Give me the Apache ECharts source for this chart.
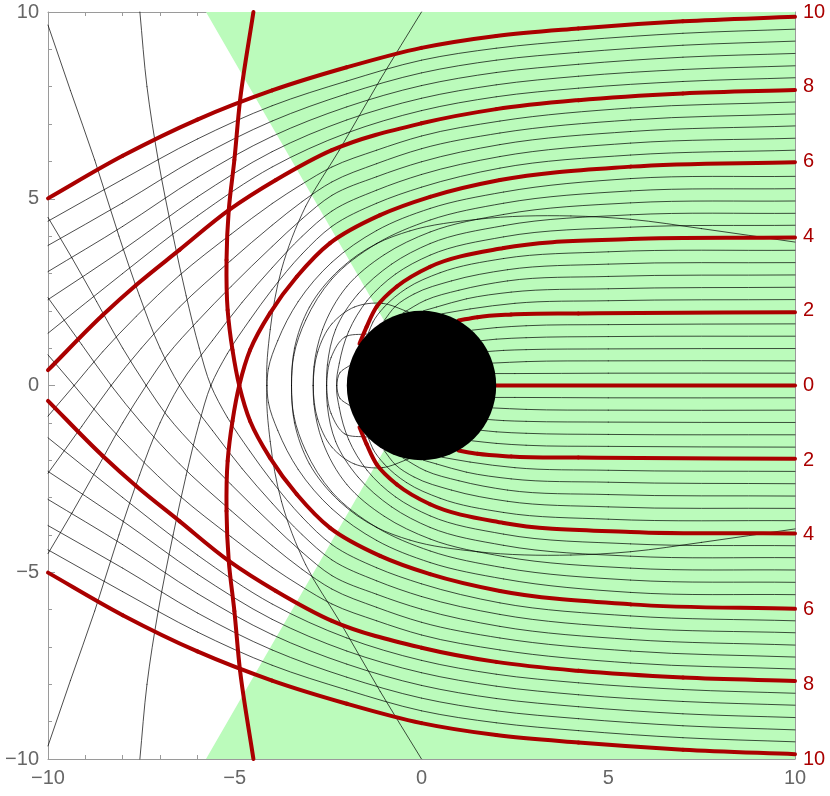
<!DOCTYPE html>
<html><head><meta charset="utf-8">
<script src="https://cdn.jsdelivr.net/npm/echarts/dist/echarts.min.js"></script>
<style>html,body{margin:0;padding:0;background:#fff}#c{width:830px;height:796px}</style>
</head><body><div id="c"></div>
<script>
// axis ticks
const xTicks = [-10, -5, 0, 5, 10];
const yTicksLeft = [-10, -5, 0, 5, 10];
const yTicksRight = [10, 8, 6, 4, 2, 0, 2, 4, 6, 8, 10];

// green wedge boundary (data units) and horizon
const wedgeX = [0, -5.77, 10, 10, -5.77];
const wedgeY = [0, 10, 10, -10, -10];
const holeCenter = [0, 0];
const horizonRadius = 2;

// thick red rays (upper, b>0)
const red_p0 = [[10,0],[2,0]];
const red_p2 = [[10,1.96],[4.2,1.93],[2.4,1.9],[1.5,1.83],[0.99,1.74]];
const red_p4 = [[10,3.96],[5.6,3.92],[2.2,3.68],[0.23,3.18],[-0.66,2.65],[-1.2,2.11],[-1.47,1.57],[-1.66,1.12]];
const red_p6 = [[10,5.98],[5.6,5.86],[2.1,5.5],[0.23,5.05],[-1.11,4.56],[-2.45,3.81],[-3.34,2.91],[-4.06,1.93],[-4.59,0.95],[-4.88,0],[-5.06,-0.95],[-5.19,-2.02],[-5.22,-3.36],[-5.16,-4.7],[-5.01,-6.04],[-4.86,-7.62],[-4.5,-10]];
const red_p8 = [[10,7.91],[7,7.82],[4.2,7.64],[2,7.4],[0,7.02],[-2.4,6.3],[-3.9,5.5],[-5.15,4.7],[-6.48,3.63],[-7.64,2.69],[-8.54,1.88],[-10,0.41]];
const red_p10 = [[10,9.87],[7,9.75],[4.2,9.56],[2,9.36],[0,9.04],[-2,8.52],[-4,7.9],[-6,7.12],[-8,6.15],[-10,5.01]];
// thick red rays (lower, b<0)
const red_m2 = [[10,-1.96],[4.2,-1.93],[2.4,-1.9],[1.5,-1.83],[0.99,-1.74]];
const red_m4 = [[10,-3.96],[5.6,-3.92],[2.2,-3.68],[0.23,-3.18],[-0.66,-2.65],[-1.2,-2.11],[-1.47,-1.57],[-1.66,-1.12]];
const red_m6 = [[10,-5.98],[5.6,-5.86],[2.1,-5.5],[0.23,-5.05],[-1.11,-4.56],[-2.45,-3.81],[-3.34,-2.91],[-4.06,-1.93],[-4.59,-0.95],[-4.88,0],[-5.06,0.95],[-5.19,2.02],[-5.22,3.36],[-5.16,4.7],[-5.01,6.04],[-4.86,7.62],[-4.5,10]];
const red_m8 = [[10,-7.91],[7,-7.82],[4.2,-7.64],[2,-7.4],[0,-7.02],[-2.4,-6.3],[-3.9,-5.5],[-5.15,-4.7],[-6.48,-3.63],[-7.64,-2.69],[-8.54,-1.88],[-10,-0.41]];
const red_m10 = [[10,-9.87],[7,-9.75],[4.2,-9.56],[2,-9.36],[0,-9.04],[-2,-8.52],[-4,-7.9],[-6,-7.12],[-8,-6.15],[-10,-5.01]];

// thin rays (upper)
const thin_p1 = [[10,0.33],[5,0.33],[2.5,0.32],[1.97,0.32]];
const thin_p2 = [[10,0.66],[5,0.66],[2.8,0.64],[1.91,0.6]];
const thin_p3 = [[10,0.99],[5,0.98],[2.8,0.96],[2.2,0.94],[1.78,0.91]];
const thin_p4 = [[10,1.32],[5,1.31],[2.8,1.28],[2.0,1.24],[1.6,1.2]];
const thin_p5 = [[10,1.65],[5,1.63],[2.8,1.6],[2.0,1.55],[1.35,1.48]];
const thin_p7 = [[10,2.3],[5,2.27],[2.5,2.2],[1.3,2.05],[0.55,1.92]];
const thin_p8 = [[10,2.63],[5,2.59],[2.4,2.5],[1.2,2.32],[0.4,2.1],[0.05,2.0]];
const thin_p9 = [[10,2.96],[5,2.92],[2.3,2.8],[1.0,2.55],[0.1,2.28],[-0.5,1.94]];
const thin_p10 = [[10,3.29],[5,3.25],[2.3,3.1],[0.8,2.8],[-0.2,2.45],[-0.7,2.12],[-1.0,1.74]];
const thin_p11 = [[10,3.62],[5,3.58],[2.2,3.4],[0.5,3.02],[-0.4,2.6],[-1.0,2.1],[-1.3,1.7],[-1.42,1.41]];
const thin_p13 = [[10,4.29],[5.6,4.24],[2.2,3.98],[0.23,3.49],[-0.7,2.98],[-1.45,2.28],[-1.95,1.45],[-2.2,0.6],[-2.27,0],[-2.18,-0.35],[-1.93,-0.53]];
const thin_p14 = [[10,4.61],[5.6,4.57],[2.2,4.28],[0.23,3.8],[-0.8,3.25],[-1.7,2.45],[-2.3,1.5],[-2.52,0.55],[-2.54,0],[-2.42,-0.75],[-2.05,-1.3],[-1.45,-1.38]];
const thin_p15 = [[10,4.94],[5.6,4.89],[2.2,4.58],[0.23,4.11],[-1.0,3.5],[-2.0,2.65],[-2.65,1.5],[-2.88,0.5],[-2.9,0],[-2.78,-0.9],[-2.4,-1.65],[-1.8,-2.1],[-1.05,-2.2],[-0.35,-1.97]];
const thin_p16 = [[10,5.27],[5.6,5.21],[2.2,4.88],[0.23,4.43],[-1.2,3.8],[-2.4,2.85],[-3.1,1.75],[-3.42,0.8],[-3.48,0],[-3.4,-1.0],[-3.0,-2.1],[-2.2,-3.1],[-1.2,-3.8],[-0.31,-4.14],[1.5,-4.45],[4.0,-4.54],[5.6,-4.45],[7.5,-4.2],[10,-3.84]];
const thin_p17 = [[10,5.6],[5.6,5.54],[2.2,5.18],[0.23,4.74],[-1.2,4.15],[-2.4,3.3],[-3.3,2.25],[-3.85,1.2],[-4.1,0.45],[-4.14,0],[-4.05,-1.5],[-3.75,-3.1],[-3.1,-4.8],[-2.2,-6.3],[-1.1,-8.2],[0,-10]];
const thin_p19 = [[10,6.3],[5.6,6.17],[2.1,5.82],[0,5.31],[-1.2,4.88],[-2.4,4.26],[-3.2,3.52],[-4,2.57],[-4.6,1.75],[-5.2,0.85],[-5.64,0],[-5.95,-1.0],[-6.3,-2.4],[-6.65,-4.0],[-7.05,-6.04],[-7.35,-8.0],[-7.54,-10]];
const thin_p20 = [[10,6.62],[5.6,6.49],[2.1,6.13],[0,5.65],[-1.2,5.23],[-2.4,4.67],[-3.2,3.99],[-4,3.15],[-4.8,2.23],[-5.6,1.2],[-6.48,0],[-7.0,-1.0],[-7.55,-2.4],[-8.1,-4.0],[-8.75,-6.04],[-9.4,-7.9],[-10,-9.65]];
const thin_p21 = [[10,6.95],[5.6,6.8],[2.1,6.45],[0,5.99],[-1.2,5.59],[-2.4,5.09],[-3.2,4.46],[-4,3.72],[-5.1,2.65],[-6.0,1.72],[-6.8,0.82],[-7.37,0],[-8.0,-1.0],[-8.7,-2.25],[-9.35,-3.4],[-10,-4.5]];
const thin_p22 = [[10,7.27],[5.6,7.11],[2.1,6.76],[0,6.34],[-1.2,5.94],[-2.4,5.45],[-3.2,4.92],[-4,4.29],[-5.1,3.35],[-6.48,2.1],[-7.5,1.0],[-8.31,0],[-9.1,-1.1],[-10,-2.35]];
const thin_p23 = [[10,7.59],[5.6,7.43],[2.1,7.08],[0,6.68],[-1.2,6.3],[-2.4,5.85],[-3.2,5.39],[-4,4.87],[-5.1,4.05],[-6.48,2.95],[-7.64,1.85],[-8.54,0.9],[-9.3,0],[-10,-0.82]];
const thin_p25 = [[10,8.24],[7,8.14],[4.2,7.96],[2,7.73],[0,7.36],[-2,6.76],[-4,5.85],[-6,4.54],[-8,3.0],[-10,1.4]];
const thin_p26 = [[10,8.56],[7,8.46],[4.2,8.28],[2,8.05],[0,7.69],[-2,7.11],[-4,6.26],[-6,5.05],[-8,3.63],[-10,2.3]];
const thin_p27 = [[10,8.89],[7,8.79],[4.2,8.6],[2,8.38],[0,8.03],[-2,7.46],[-4,6.67],[-6,5.57],[-8,4.26],[-10,3.05]];
const thin_p28 = [[10,9.22],[7,9.11],[4.2,8.92],[2,8.71],[0,8.37],[-2,7.81],[-4,7.08],[-6,6.09],[-8,4.89],[-10,3.75]];
const thin_p29 = [[10,9.54],[7,9.43],[4.2,9.24],[2,9.03],[0,8.71],[-2,8.15],[-4,7.49],[-6,6.6],[-8,5.52],[-10,4.4]];

// thin rays (lower)
const thin_m1 = [[10,-0.33],[5,-0.33],[2.5,-0.32],[1.97,-0.32]];
const thin_m2 = [[10,-0.66],[5,-0.66],[2.8,-0.64],[1.91,-0.6]];
const thin_m3 = [[10,-0.99],[5,-0.98],[2.8,-0.96],[2.2,-0.94],[1.78,-0.91]];
const thin_m4 = [[10,-1.32],[5,-1.31],[2.8,-1.28],[2.0,-1.24],[1.6,-1.2]];
const thin_m5 = [[10,-1.65],[5,-1.63],[2.8,-1.6],[2.0,-1.55],[1.35,-1.48]];
const thin_m7 = [[10,-2.3],[5,-2.27],[2.5,-2.2],[1.3,-2.05],[0.55,-1.92]];
const thin_m8 = [[10,-2.63],[5,-2.59],[2.4,-2.5],[1.2,-2.32],[0.4,-2.1],[0.05,-2.0]];
const thin_m9 = [[10,-2.96],[5,-2.92],[2.3,-2.8],[1.0,-2.55],[0.1,-2.28],[-0.5,-1.94]];
const thin_m10 = [[10,-3.29],[5,-3.25],[2.3,-3.1],[0.8,-2.8],[-0.2,-2.45],[-0.7,-2.12],[-1.0,-1.74]];
const thin_m11 = [[10,-3.62],[5,-3.58],[2.2,-3.4],[0.5,-3.02],[-0.4,-2.6],[-1.0,-2.1],[-1.3,-1.7],[-1.42,-1.41]];
const thin_m13 = [[10,-4.29],[5.6,-4.24],[2.2,-3.98],[0.23,-3.49],[-0.7,-2.98],[-1.45,-2.28],[-1.95,-1.45],[-2.2,-0.6],[-2.27,0],[-2.18,0.35],[-1.93,0.53]];
const thin_m14 = [[10,-4.61],[5.6,-4.57],[2.2,-4.28],[0.23,-3.8],[-0.8,-3.25],[-1.7,-2.45],[-2.3,-1.5],[-2.52,-0.55],[-2.54,0],[-2.42,0.75],[-2.05,1.3],[-1.45,1.38]];
const thin_m15 = [[10,-4.94],[5.6,-4.89],[2.2,-4.58],[0.23,-4.11],[-1.0,-3.5],[-2.0,-2.65],[-2.65,-1.5],[-2.88,-0.5],[-2.9,0],[-2.78,0.9],[-2.4,1.65],[-1.8,2.1],[-1.05,2.2],[-0.35,1.97]];
const thin_m16 = [[10,-5.27],[5.6,-5.21],[2.2,-4.88],[0.23,-4.43],[-1.2,-3.8],[-2.4,-2.85],[-3.1,-1.75],[-3.42,-0.8],[-3.48,0],[-3.4,1.0],[-3.0,2.1],[-2.2,3.1],[-1.2,3.8],[-0.31,4.14],[1.5,4.45],[4.0,4.54],[5.6,4.45],[7.5,4.2],[10,3.84]];
const thin_m17 = [[10,-5.6],[5.6,-5.54],[2.2,-5.18],[0.23,-4.74],[-1.2,-4.15],[-2.4,-3.3],[-3.3,-2.25],[-3.85,-1.2],[-4.1,-0.45],[-4.14,0],[-4.05,1.5],[-3.75,3.1],[-3.1,4.8],[-2.2,6.3],[-1.1,8.2],[0,10]];
const thin_m19 = [[10,-6.3],[5.6,-6.17],[2.1,-5.82],[0,-5.31],[-1.2,-4.88],[-2.4,-4.26],[-3.2,-3.52],[-4,-2.57],[-4.6,-1.75],[-5.2,-0.85],[-5.64,0],[-5.95,1.0],[-6.3,2.4],[-6.65,4.0],[-7.05,6.04],[-7.35,8.0],[-7.54,10]];
const thin_m20 = [[10,-6.62],[5.6,-6.49],[2.1,-6.13],[0,-5.65],[-1.2,-5.23],[-2.4,-4.67],[-3.2,-3.99],[-4,-3.15],[-4.8,-2.23],[-5.6,-1.2],[-6.48,0],[-7.0,1.0],[-7.55,2.4],[-8.1,4.0],[-8.75,6.04],[-9.4,7.9],[-10,9.65]];
const thin_m21 = [[10,-6.95],[5.6,-6.8],[2.1,-6.45],[0,-5.99],[-1.2,-5.59],[-2.4,-5.09],[-3.2,-4.46],[-4,-3.72],[-5.1,-2.65],[-6.0,-1.72],[-6.8,-0.82],[-7.37,0],[-8.0,1.0],[-8.7,2.25],[-9.35,3.4],[-10,4.5]];
const thin_m22 = [[10,-7.27],[5.6,-7.11],[2.1,-6.76],[0,-6.34],[-1.2,-5.94],[-2.4,-5.45],[-3.2,-4.92],[-4,-4.29],[-5.1,-3.35],[-6.48,-2.1],[-7.5,-1.0],[-8.31,0],[-9.1,1.1],[-10,2.35]];
const thin_m23 = [[10,-7.59],[5.6,-7.43],[2.1,-7.08],[0,-6.68],[-1.2,-6.3],[-2.4,-5.85],[-3.2,-5.39],[-4,-4.87],[-5.1,-4.05],[-6.48,-2.95],[-7.64,-1.85],[-8.54,-0.9],[-9.3,0],[-10,0.82]];
const thin_m25 = [[10,-8.24],[7,-8.14],[4.2,-7.96],[2,-7.73],[0,-7.36],[-2,-6.76],[-4,-5.85],[-6,-4.54],[-8,-3.0],[-10,-1.4]];
const thin_m26 = [[10,-8.56],[7,-8.46],[4.2,-8.28],[2,-8.05],[0,-7.69],[-2,-7.11],[-4,-6.26],[-6,-5.05],[-8,-3.63],[-10,-2.3]];
const thin_m27 = [[10,-8.89],[7,-8.79],[4.2,-8.6],[2,-8.38],[0,-8.03],[-2,-7.46],[-4,-6.67],[-6,-5.57],[-8,-4.26],[-10,-3.05]];
const thin_m28 = [[10,-9.22],[7,-9.11],[4.2,-8.92],[2,-8.71],[0,-8.37],[-2,-7.81],[-4,-7.08],[-6,-6.09],[-8,-4.89],[-10,-3.75]];
const thin_m29 = [[10,-9.54],[7,-9.43],[4.2,-9.24],[2,-9.03],[0,-8.71],[-2,-8.15],[-4,-7.49],[-6,-6.6],[-8,-5.52],[-10,-4.4]];

const redRays = [red_p0, red_p2, red_p4, red_p6, red_p8, red_p10, red_m2, red_m4, red_m6, red_m8, red_m10];
const thinRays = [thin_p1, thin_p2, thin_p3, thin_p4, thin_p5, thin_p7, thin_p8, thin_p9, thin_p10, thin_p11,
  thin_p13, thin_p14, thin_p15, thin_p16, thin_p17, thin_p19, thin_p20, thin_p21, thin_p22, thin_p23,
  thin_p25, thin_p26, thin_p27, thin_p28, thin_p29,
  thin_m1, thin_m2, thin_m3, thin_m4, thin_m5, thin_m7, thin_m8, thin_m9, thin_m10, thin_m11,
  thin_m13, thin_m14, thin_m15, thin_m16, thin_m17, thin_m19, thin_m20, thin_m21, thin_m22, thin_m23,
  thin_m25, thin_m26, thin_m27, thin_m28, thin_m29];

const GRAY_LINE = '#9a9a9a';
const GRAY_TEXT = '#666666';
const RED = '#aa0000';
const GREEN = '#bbfbbb';
const FONT = 'Liberation Sans';
const minus = v => String(v).replace('-', '\u2212');

// smooth curve through the read points (tangent-continuous cubic pieces)
function curveGroup(px, stroke, width) {
  const n = px.length;
  const d = [];
  for (let i = 0; i < n - 1; i++) d.push(Math.max(1e-6, Math.hypot(px[i + 1][0] - px[i][0], px[i + 1][1] - px[i][1])));
  const m = [];
  for (let i = 0; i < n; i++) {
    if (i === 0) m.push([(px[1][0] - px[0][0]) / d[0], (px[1][1] - px[0][1]) / d[0]]);
    else if (i === n - 1) m.push([(px[i][0] - px[i - 1][0]) / d[i - 1], (px[i][1] - px[i - 1][1]) / d[i - 1]]);
    else {
      const a = d[i - 1], b = d[i];
      const wa = b / (a + b), wb = a / (a + b);
      m.push([wa * (px[i][0] - px[i - 1][0]) / a + wb * (px[i + 1][0] - px[i][0]) / b,
              wa * (px[i][1] - px[i - 1][1]) / a + wb * (px[i + 1][1] - px[i][1]) / b]);
    }
  }
  const children = [];
  for (let i = 0; i < n - 1; i++) {
    const L = d[i] / 3;
    children.push({
      type: 'bezierCurve',
      shape: {
        x1: px[i][0], y1: px[i][1],
        cpx1: px[i][0] + m[i][0] * L, cpy1: px[i][1] + m[i][1] * L,
        cpx2: px[i + 1][0] - m[i + 1][0] * L, cpy2: px[i + 1][1] - m[i + 1][1] * L,
        x2: px[i + 1][0], y2: px[i + 1][1]
      },
      style: {stroke: stroke, lineWidth: width, fill: null, lineCap: 'round', lineJoin: 'round'}
    });
  }
  return {type: 'group', children: children};
}

const chart = echarts.init(document.getElementById('c'), null, {renderer: 'canvas'});

const axisCommon = {
  type: 'value', min: -10, max: 10, interval: 5,
  axisLine: {show: true, onZero: false, lineStyle: {color: GRAY_LINE, width: 1}},
  axisTick: {show: true, inside: true, length: 7, lineStyle: {color: GRAY_LINE}},
  minorTick: {show: true, splitNumber: 5, length: 4, lineStyle: {color: GRAY_LINE}},
  splitLine: {show: false}
};

const series = [];
series.push({
  type: 'custom', z: 1, silent: true, data: [[0, 0]],
  renderItem: (params, api) => ({
    type: 'polygon',
    shape: {points: wedgeX.map((x, i) => api.coord([x, wedgeY[i]]))},
    style: {fill: GREEN}
  })
});
thinRays.forEach(r => series.push({
  type: 'custom', z: 2, silent: true, data: [r[0]],
  renderItem: (params, api) => curveGroup(r.map(p => api.coord(p)), '#000', 0.7)
}));
redRays.forEach(r => series.push({
  type: 'custom', z: 3, silent: true, data: [r[0]],
  renderItem: (params, api) => curveGroup(r.map(p => api.coord(p)), RED, 4)
}));
series.push({
  type: 'custom', z: 4, silent: true, data: [holeCenter],
  renderItem: (params, api) => {
    const c = api.coord(holeCenter);
    const r = api.size([horizonRadius, 0])[0];
    return {type: 'circle', shape: {cx: c[0], cy: c[1], r: r}, style: {fill: '#000'}};
  }
});

chart.setOption({
  animation: false,
  backgroundColor: '#fff',
  textStyle: {fontFamily: FONT},
  grid: {left: 48, right: 35, top: 12, bottom: 37, containLabel: false},
  xAxis: [
    Object.assign({}, axisCommon, {position: 'bottom',
      axisLabel: {color: GRAY_TEXT, fontSize: 20, fontFamily: FONT, margin: 9,
        formatter: v => xTicks.includes(v) ? minus(v) : ''}}),
    Object.assign({}, axisCommon, {position: 'top', axisLabel: {show: false}})
  ],
  yAxis: [
    Object.assign({}, axisCommon, {position: 'left',
      axisLabel: {color: GRAY_TEXT, fontSize: 20, fontFamily: FONT, margin: 9,
        formatter: v => yTicksLeft.includes(v) ? minus(v) : ''}}),
    Object.assign({}, axisCommon, {position: 'right', interval: 2,
      axisTick: {show: false}, minorTick: {show: false},
      axisLabel: {color: RED, fontSize: 20, fontFamily: FONT, margin: 8,
        formatter: v => String(yTicksRight[Math.round((10 - v) / 2)])}})
  ],
  series: series
});
</script></body></html>
